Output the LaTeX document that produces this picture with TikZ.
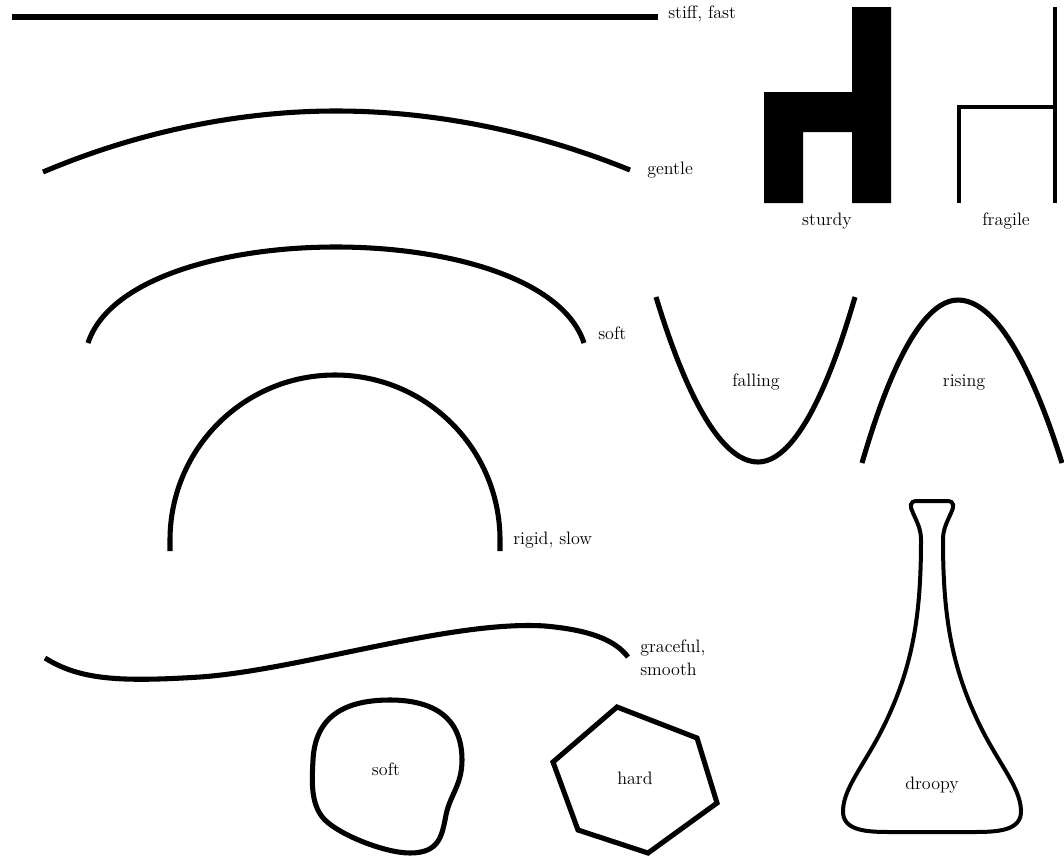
\documentclass[tikz,border=0pt]{standalone}
\usepackage{tikz}

\begin{document}
\begin{tikzpicture}[x=0.75pt, y=-0.75pt, every node/.style={font=\fontsize{13.5}{17}\selectfont, inner sep=0pt}, stroke/.style={line width=3.8pt}, thinstroke/.style={line width=2.3pt}, lbl/.style={anchor=west, align=left}]
	\useasboundingbox (0,0) rectangle (1064,857);
	% lines on the left
	\draw[stroke] (12,17) -- (658,17);
	\node[lbl] (stiff) at (668,14) {stiff, fast};
	\draw[stroke] (43,172) parabola bend (336,111) (630,170);
	\node[lbl] (gentle) at (647,170) {gentle};
	\draw[stroke] (88,343) .. controls (130,215) and (542,215) .. (584,343);
	\node[lbl] (softarc) at (598,333) {soft};
	\draw[stroke] (170,551) -- (170,540) arc[start angle=180, end angle=360, radius=165] -- (500,551);
	\node[lbl] (rigid) at (513,540) {rigid, slow};
	\draw[stroke] (45,658) .. controls (80,680) and (120,682) .. (200,677) .. controls (300,670) and (450,620) .. (545,626) .. controls (590,630) and (615,640) .. (628,657);
	\node[lbl] (graceful) at (640,658) {graceful,\\smooth};
	% chairs
	\fill (852,7) -- (891,7) -- (891,203) -- (852,203) -- (852,132) -- (803,132) -- (803,203) -- (764,203) -- (764,92) -- (852,92) -- cycle;
	\node (sturdy) at (827,221) {sturdy};
	\draw[thinstroke] (1055,7) -- (1055,203);
	\draw[thinstroke] (959,203) -- (959,107) -- (1055,107);
	\node (fragile) at (1006,221) {fragile};
	% parabolas
	\draw[stroke] (656,297) parabola bend (758,462) (855,297);
	\node (falling) at (756,382) {falling};
	\draw[stroke] (862,463) parabola bend (958,300) (1062,463);
	\node (rising) at (964,382) {rising};
	% closed shapes
	\draw[stroke] (390,700) .. controls (430,700) and (462,715) .. (462,760) .. controls (462,785) and (450,795) .. (446,815) .. controls (442,835) and (440,853) .. (410,853) .. controls (385,853) and (340,835) .. (325,820) .. controls (310,805) and (312,780) .. (313,760) .. controls (315,720) and (340,700) .. cycle;
	\node (softblob) at (386,769) {soft};
	\draw[stroke, line join=miter] (617,707) -- (697,738) -- (717,803) -- (648,853) -- (578,830) -- (553,762) -- cycle;
	\node (hard) at (635,778) {hard};
	\draw[line width=3pt] (932,832) -- (889,832) .. controls (864,832) and (842,830) .. (843,810) .. controls (844,785) and (869,760) .. (889,715) .. controls (914,660) and (921,610) .. (921,540) .. controls (921,530) and (918,524) .. (913,513) .. controls (910,507) and (909,501) .. (917,501) -- (947,501) .. controls (955,501) and (954,507) .. (951,513) .. controls (946,524) and (943,530) .. (943,540) .. controls (943,610) and (950,660) .. (975,715) .. controls (995,760) and (1020,785) .. (1021,810) .. controls (1022,830) and (1000,832) .. (975,832) -- cycle;
	\node (droopy) at (932,785) {droopy};
\end{tikzpicture}
\end{document}
